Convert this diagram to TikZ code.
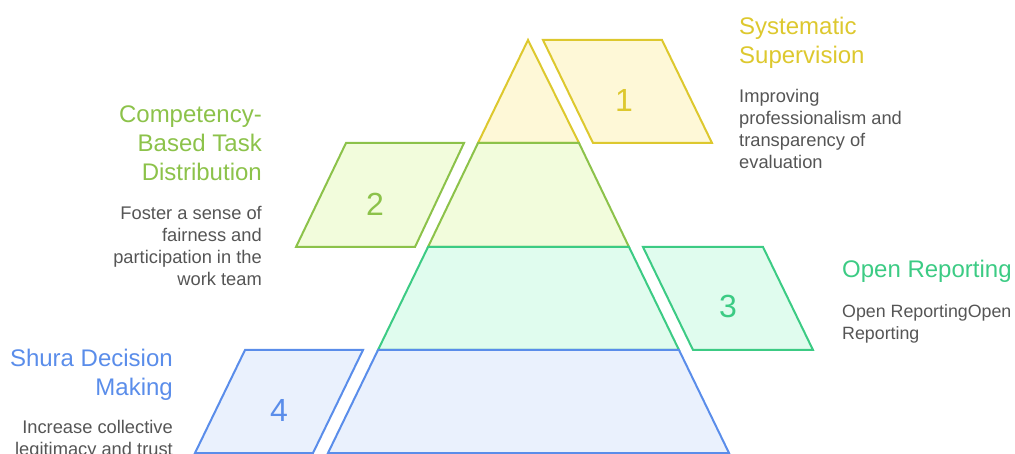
\documentclass[tikz,border=0pt]{standalone}
\usepackage{fontspec}
\setmainfont{Liberation Sans}
\definecolor{ylS}{HTML}{DDC82E}
\definecolor{ylF}{HTML}{FEF8D7}
\definecolor{grS}{HTML}{8CC24A}
\definecolor{grF}{HTML}{F2FCDC}
\definecolor{tlS}{HTML}{3CCB84}
\definecolor{tlF}{HTML}{E0FCEE}
\definecolor{blS}{HTML}{5A8DEA}
\definecolor{blF}{HTML}{EAF1FD}
\definecolor{txtgray}{HTML}{555555}
\tikzset{
  lvl/.style={line width=2pt, line join=miter},
  ttl/.style={font=\fontsize{24}{29}\selectfont, inner sep=0pt},
  dsc/.style={font=\fontsize{18.3}{22}\selectfont, text=txtgray, inner sep=0pt},
  num/.style={font=\fontsize{32}{32}\selectfont, inner sep=0pt, anchor=center},
}
\begin{document}
\begin{tikzpicture}[x=1pt,y=-1pt]
\useasboundingbox (0,0) rectangle (1015,454);
% pyramid coordinates
\coordinate (A) at (528,40);
\coordinate (L1) at (478,143); \coordinate (R1) at (579,143);
\coordinate (L2) at (428,247); \coordinate (R2) at (629,247);
\coordinate (L3) at (378,350); \coordinate (R3) at (679,350);
\coordinate (L4) at (328,453); \coordinate (R4) at (729,453);
% pyramid levels
\draw[lvl, draw=ylS, fill=ylF] (A) -- (R1) -- (L1) -- cycle;
\draw[lvl, draw=grS, fill=grF] (L1) -- (R1) -- (R2) -- (L2) -- cycle;
\draw[lvl, draw=tlS, fill=tlF] (L2) -- (R2) -- (R3) -- (L3) -- cycle;
\draw[lvl, draw=blS, fill=blF] (L3) -- (R3) -- (R4) -- (L4) -- cycle;
% parallelograms
\draw[lvl, draw=ylS, fill=ylF] (543,40) -- (662,40) -- (712,143) -- (593,143) -- cycle;
\draw[lvl, draw=grS, fill=grF] (346,143) -- (464,143) -- (415,247) -- (296,247) -- cycle;
\draw[lvl, draw=tlS, fill=tlF] (643,247) -- (763,247) -- (813,350) -- (693,350) -- cycle;
\draw[lvl, draw=blS, fill=blF] (245,350) -- (363,350) -- (313,453) -- (195,453) -- cycle;
% numbers
\node[num, text=ylS] (n1) at (624,100) {1};
\node[num, text=grS] (n2) at (375,204) {2};
\node[num, text=tlS] (n3) at (728,306) {3};
\node[num, text=blS] (n4) at (279,410) {4};
% texts
\node[ttl, text=ylS, anchor=north west, align=left] (t1) at (739,17) {Systematic\\Supervision};
\node[dsc, anchor=north west, align=left] (d1) at (739,89) {Improving\\professionalism and\\transparency of\\evaluation};
\node[ttl, text=grS, anchor=north east, align=right] (t2) at (262,106) {Competency-\\Based Task\\Distribution};
\node[dsc, anchor=north east, align=right] (d2) at (262,206) {Foster a sense of\\fairness and\\participation in the\\work team};
\node[ttl, text=tlS, anchor=north west, align=left] (t3) at (842,260) {Open Reporting};
\node[dsc, font=\fontsize{17.8}{22}\selectfont, anchor=north west, align=left] (d3) at (842,304) {Open ReportingOpen\\Reporting};
\node[ttl, text=blS, anchor=north east, align=right] (t4) at (173,349) {Shura Decision\\Making};
\node[dsc, anchor=north east, align=right] (d4) at (173,420) {Increase collective\\legitimacy and trust};
\end{tikzpicture}
\end{document}
